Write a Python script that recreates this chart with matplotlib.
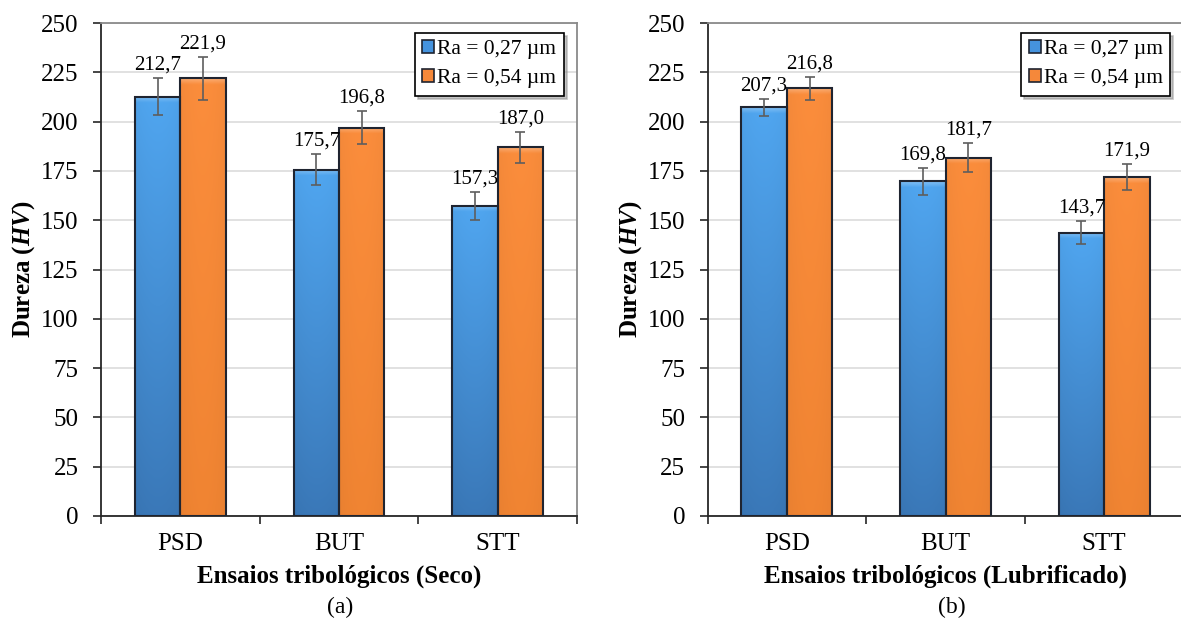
import numpy as np
import matplotlib
matplotlib.use("Agg")
import matplotlib.pyplot as plt
from matplotlib.patches import Rectangle
from matplotlib.colors import to_rgb

plt.rcParams['font.family'] = ['Liberation Serif', 'DejaVu Serif']
plt.rcParams['mathtext.fontset'] = 'custom'
plt.rcParams['mathtext.rm'] = 'Liberation Serif:bold'
plt.rcParams['mathtext.it'] = 'Liberation Serif:italic:bold'

# ---- data ----
categories = ['PSD', 'BUT', 'STT']
series_labels = ['Ra = 0,27 µm', 'Ra = 0,54 µm']

seco_027 = [212.7, 175.7, 157.3]
seco_054 = [221.9, 196.8, 187.0]
seco_027_err = [9.2, 7.8, 7.1]
seco_054_err = [10.8, 8.4, 7.8]

lub_027 = [207.3, 169.8, 143.7]
lub_054 = [216.8, 181.7, 171.9]
lub_027_err = [4.3, 6.8, 5.8]
lub_054_err = [5.8, 7.5, 6.8]

xlabels = ['Ensaios tribológicos (Seco)', 'Ensaios tribológicos (Lubrificado)']
captions = ['(a)', '(b)']
yticks = list(range(0, 251, 25))

# ---- styling ----
BLUE_TOP, BLUE_BOT = '#50a6f0', '#3a78b8'
ORANGE_TOP, ORANGE_BOT = '#fb8d3c', '#f08432'
EDGE = '#1f2430'
ERR = '#5e5e5e'
BAR_W = 0.286

W, H = 1181, 623
fig = plt.figure(figsize=(W / 100, H / 100), dpi=100)

ax_a = fig.add_axes([101 / W, 1 - 516 / H, 476 / W, 493 / H])
ax_b = fig.add_axes([707.5 / W, 1 - 516 / H, 476 / W, 493 / H])


def gradient_fill(ax, patch, top, bot):
    """Paint a vertical gradient with a faint top bevel inside a bar patch."""
    x0, y0 = patch.get_x(), patch.get_y()
    w, h = patch.get_width(), patch.get_height()
    n = 400
    t = np.linspace(1, 0, n)[:, None]  # 1 at top row
    ct, cb = np.array(to_rgb(top)), np.array(to_rgb(bot))
    col = cb + (ct - cb) * t[..., None]
    col = np.repeat(col, 40, axis=1)
    # horizontal shading: edges slightly darker
    xs = np.linspace(-1, 1, 40)
    shade = 1 - 0.03 * xs ** 2
    col = col * shade[None, :, None]
    # soft highlight fading out just below the top edge
    depth = (1 - t[:, 0]) * h
    hl = np.clip(1 - depth / 3.0, 0, 1) * 0.28
    col = col * (1 - hl[:, None, None]) + hl[:, None, None]
    col = np.clip(col, 0, 1)
    im = ax.imshow(col, extent=[x0, x0 + w, y0, y0 + h], aspect='auto',
                   origin='upper', zorder=2.2, interpolation='bilinear')
    im.set_clip_path(patch)


def draw_panel(ax, v1, v2, e1, e2, xlabel):
    x = np.arange(len(categories))
    specs = [(x - BAR_W / 2, v1, e1, BLUE_TOP, BLUE_BOT),
             (x + BAR_W / 2, v2, e2, ORANGE_TOP, ORANGE_BOT)]
    for xs, vals, errs, top, bot in specs:
        bars = ax.bar(xs, vals, BAR_W, color=bot, edgecolor='none', zorder=2)
        for p in bars:
            gradient_fill(ax, p, top, bot)
        ax.bar(xs, vals, BAR_W, fill=False, edgecolor=EDGE, linewidth=1.5, zorder=3)
        ax.errorbar(xs, vals, yerr=errs, fmt='none', ecolor=ERR, elinewidth=1.2,
                    capsize=3.5, capthick=1.2, zorder=4)
        for xi, v, e in zip(xs, vals, errs):
            ax.annotate(f'{v:.1f}'.replace('.', ','), (xi, v + e),
                        xytext=(0, 2.5), textcoords='offset points',
                        ha='center', va='bottom', fontsize=15, zorder=5)

    ax.set_xlim(-0.5, len(categories) - 0.5)
    ax.set_ylim(0, 250)
    ax.set_yticks(yticks)
    ax.tick_params(axis='y', direction='out', length=6, width=1.2,
                   labelsize=18, pad=10, color='#262626')
    ax.set_xticks(x)
    ax.set_xticklabels(categories)
    ax.set_xticks(np.arange(-0.5, len(categories), 1.0), minor=True)
    ax.tick_params(axis='x', which='major', length=0, labelsize=18, pad=12)
    ax.tick_params(axis='x', which='minor', direction='out', length=6,
                   width=1.2, color='#262626')

    ax.grid(axis='y', color='#d9d9d9', linewidth=1.1, zorder=0)
    ax.set_axisbelow(True)
    for s in ('left', 'bottom'):
        ax.spines[s].set_color('#262626')
        ax.spines[s].set_linewidth(1.3)
    for s in ('top', 'right'):
        ax.spines[s].set_color('#8a8a8a')
        ax.spines[s].set_linewidth(1.3)

    ax.set_ylabel(r'Dureza ($\mathit{HV}$)', fontsize=18, fontweight='bold')
    ax.yaxis.label.set_va('center')
    ax.yaxis.set_label_coords(-0.162, 0.5)
    ax.set_xlabel(xlabel, fontsize=18, fontweight='bold')
    ax.xaxis.label.set_va('baseline')
    ax.xaxis.set_label_coords(0.5, -0.136)

    handles = [Rectangle((0, 0), 1, 1, facecolor='#4593de', edgecolor=EDGE, linewidth=1.2),
               Rectangle((0, 0), 1, 1, facecolor='#f5883a', edgecolor=EDGE, linewidth=1.2)]
    leg = ax.legend(handles, series_labels, loc='upper right',
                    bbox_to_anchor=(0.9725, 0.98), borderaxespad=0,
                    fontsize=15.5, handlelength=0.55, handleheight=0.55,
                    handletextpad=0.15, labelspacing=0.45, borderpad=0.35,
                    fancybox=False, framealpha=1,
                    shadow={'color': '0.55', 'alpha': 0.5})
    leg.get_frame().set_edgecolor('black')
    leg.get_frame().set_linewidth(1.2)
    leg.set_zorder(10)


draw_panel(ax_a, seco_027, seco_054, seco_027_err, seco_054_err, xlabels[0])
draw_panel(ax_b, lub_027, lub_054, lub_027_err, lub_054_err, xlabels[1])

fig.text(340 / W, 1 - 613 / H, captions[0], ha='center', va='baseline', fontsize=17)
fig.text(952 / W, 1 - 613 / H, captions[1], ha='center', va='baseline', fontsize=17)

fig.savefig('out.png', dpi=100)
